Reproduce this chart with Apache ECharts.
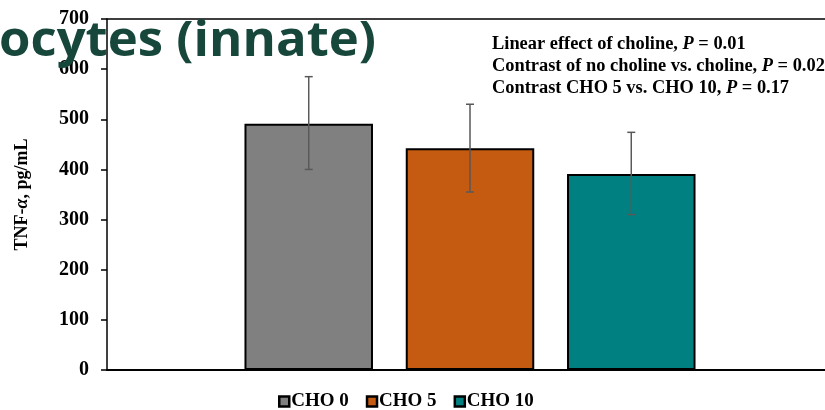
<!DOCTYPE html>
<html><head><meta charset="utf-8">
<script src="https://cdn.jsdelivr.net/npm/echarts@6/dist/echarts.min.js"></script>
<style>html,body{margin:0;padding:0;background:#fff;overflow:hidden;width:825px;height:410px}#c{width:833px;height:410px}</style>
</head><body><div id="c"></div>
<script>
var seriesNames = ['CHO 0', 'CHO 5', 'CHO 10'];
var means = [491, 442, 391];
var errLow = [400, 355, 310];
var errHigh = [585, 530, 474];
var colors = ['#808080', '#c55a11', '#008080'];
var yTicks = [0, 100, 200, 300, 400, 500, 600, 700];
var notes = ['Linear effect of choline, {i|P} = 0.01', 'Contrast of no choline vs. choline, {i|P} = 0.02', 'Contrast CHO 5 vs. CHO 10, {i|P} = 0.17'];

var BW = 0.177, GAP = 0.255;
var chart = echarts.init(document.getElementById('c'));
var series = [];
seriesNames.forEach(function (n, i) {
  series.push({
    name: n, type: 'bar', data: [means[i]], barWidth: (BW * 100) + '%', barGap: (GAP * 100) + '%',
    itemStyle: { color: colors[i], borderColor: '#000', borderWidth: 2 },
    xAxisIndex: 0, yAxisIndex: 0
  });
});
series.push({
  type: 'custom', name: 'err', xAxisIndex: 0, yAxisIndex: 0, z: 5, silent: true,
  data: seriesNames.map(function (n, i) { return [0, errLow[i], errHigh[i], i]; }),
  encode: { x: 0, y: [1, 2] },
  renderItem: function (params, api) {
    var band = api.size([1, 0])[0];
    var idx = api.value(3);
    var off = (idx - 1) * band * BW * (1 + GAP);
    var lo = api.coord([0, api.value(1)]);
    var hi = api.coord([0, api.value(2)]);
    var x = lo[0] + off, cw = 4;
    var st = { stroke: '#595959', lineWidth: 1.5 };
    return { type: 'group', children: [
      { type: 'line', shape: { x1: x, y1: lo[1], x2: x, y2: hi[1] }, style: st },
      { type: 'line', shape: { x1: x - cw, y1: lo[1], x2: x + cw, y2: lo[1] }, style: st },
      { type: 'line', shape: { x1: x - cw, y1: hi[1], x2: x + cw, y2: hi[1] }, style: st }
    ] };
  }
});

chart.setOption({
  animation: false,
  grid: { left: 107, top: 19, width: 726, height: 351 },
  legend: {
    data: seriesNames, top: 392, left: 278, padding: 0, itemWidth: 10, itemHeight: 10, itemGap: 17, icon: 'rect',
    itemStyle: { borderColor: '#000', borderWidth: 2.5 },
    textStyle: { fontFamily: 'Liberation Serif', fontWeight: 'bold', fontSize: 19, color: '#000', padding: [0, 0, 0, -3] }
  },
  xAxis: [{
    type: 'category', data: [''], position: 'bottom',
    axisLine: { lineStyle: { color: '#000', width: 2 } }, axisTick: { show: false }, axisLabel: { show: false }
  }, {
    type: 'category', data: [''], position: 'top',
    axisLine: { lineStyle: { color: '#000', width: 1.5 } }, axisTick: { show: false }, axisLabel: { show: false }
  }],
  yAxis: {
    type: 'value', min: yTicks[0], max: yTicks[yTicks.length - 1], interval: 100,
    axisLine: { show: true, lineStyle: { color: '#000', width: 1.5 } },
    axisTick: { show: true, length: 6, lineStyle: { color: '#000', width: 1.5 } },
    splitLine: { show: false },
    axisLabel: { fontFamily: 'Liberation Serif', fontWeight: 'bold', fontSize: 20, color: '#000', margin: 18 },
    name: 'TNF-{a|α}, pg/mL', nameLocation: 'middle', nameGap: 76, nameRotate: 90,
    nameTextStyle: { fontFamily: 'Liberation Serif', fontWeight: 'bold', fontSize: 18, color: '#000',
      rich: { a: { fontFamily: 'Liberation Serif', fontWeight: 'bold', fontStyle: 'italic', fontSize: 18, color: '#000' } } }
  },
  graphic: [
    { type: 'text', left: -1, top: 18, z: 100, scaleX: 1.06, style: { text: 'ocytes (innate)', fill: '#17463b',
      font: 'bold 48px "Open Sans"' } },
    { type: 'text', left: 492, top: 33, z: 100, style: {
      text: notes.join('\n'), fill: '#000', lineHeight: 22,
      font: 'bold 18.4px "Liberation Serif"',
      rich: { i: { fontStyle: 'italic', fontWeight: 'bold', fontFamily: 'Liberation Serif', fontSize: 18.4, fill: '#000' } } } }
  ],
  series: series
});
</script></body></html>
